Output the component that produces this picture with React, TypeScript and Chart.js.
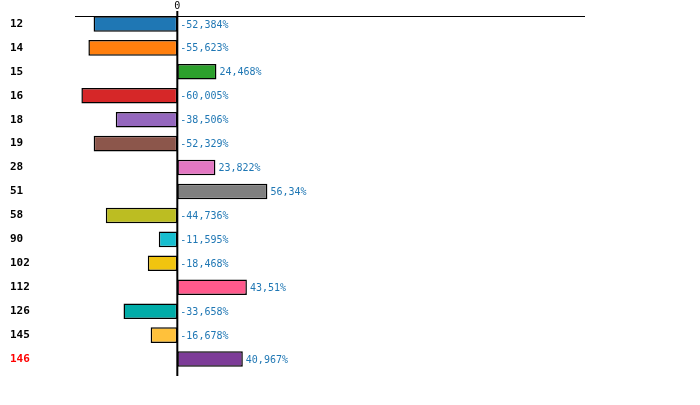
import { useEffect, useRef } from "react";
import { Chart, registerables } from "chart.js";

Chart.register(...registerables);

const categories = ["12", "14", "15", "16", "18", "19", "28", "51", "58", "90", "102", "112", "126", "145", "146"];
const values = [-52.384, -55.623, 24.468, -60.005, -38.506, -52.329, 23.822, 56.34, -44.736, -11.595, -18.468, 43.51, -33.658, -16.678, 40.967];
const barColors = [
  "#1f77b4", "#ff7f0e", "#2ca02c", "#d62728", "#9467bd",
  "#8c564b", "#e377c2", "#7f7f7f", "#bcbd22", "#17becf",
  "#f1c40f", "#ff5a8c", "#00aca8", "#ffc13b", "#7d3c98",
];
const highlighted = ["146"];

const fmt = (v: number) => String(v).replace(".", ",") + "%";

const overlayPlugin = {
  id: "overlay",
  afterDatasetsDraw(chart: any) {
    const { ctx, chartArea, scales } = chart;
    const meta = chart.getDatasetMeta(0);
    const x0 = scales.x.getPixelForValue(0);

    ctx.save();
    // top rule, level with the top of the first bar
    const first = meta.data[0];
    if (first) {
      const top = Math.round(first.y - first.height / 2) + 0.5;
      ctx.strokeStyle = "#000";
      ctx.lineWidth = 1;
      ctx.beginPath();
      ctx.moveTo(chartArea.left, top);
      ctx.lineTo(chartArea.right, top);
      ctx.stroke();
    }

    // zero line
    ctx.strokeStyle = "#000";
    ctx.lineWidth = 2;
    ctx.beginPath();
    ctx.moveTo(x0, chartArea.top - 1);
    ctx.lineTo(x0, chartArea.bottom + 5);
    ctx.stroke();

    // value labels
    ctx.font = "10px 'DejaVu Sans Mono'";
    ctx.fillStyle = "#1f77b4";
    ctx.textAlign = "left";
    ctx.textBaseline = "middle";
    meta.data.forEach((bar: any, i: number) => {
      const x = Math.max(bar.x, x0) + 3;
      ctx.fillText(fmt(values[i]), x, bar.y + 1);
    });
    ctx.restore();
  },
};

export default function App() {
  const canvasRef = useRef<HTMLCanvasElement | null>(null);
  const chartRef = useRef<Chart | null>(null);

  useEffect(() => {
    document.body.style.margin = "0";
    if (!canvasRef.current) return;
    const ctx = canvasRef.current.getContext("2d");
    if (!ctx) return;
    if (chartRef.current) chartRef.current.destroy();

    chartRef.current = new Chart(ctx, {
      type: "bar",
      data: {
        labels: categories,
        datasets: [
          {
            data: values,
            backgroundColor: barColors,
            borderColor: "#000",
            borderWidth: 1.5,
            borderSkipped: false,
            barPercentage: 0.65,
            categoryPercentage: 1,
          },
        ],
      },
      options: {
        indexAxis: "y",
        animation: false,
        responsive: false,
        devicePixelRatio: 1,
        layout: { padding: { left: 10, right: 115, top: 0, bottom: 34 } },
        plugins: {
          legend: { display: false },
          tooltip: { enabled: false },
        },
        scales: {
          x: {
            position: "top",
            min: -64,
            max: 255,
            afterBuildTicks: (scale: any) => {
              scale.ticks = [{ value: 0 }];
            },
            grid: { display: false, drawTicks: false },
            border: { display: false },
            ticks: {
              padding: 1,
              color: "#000",
              font: { family: "'DejaVu Sans Mono'", size: 10, lineHeight: 1 },
              callback: (v: any) => String(v),
            },
          },
          y: {
            grid: { display: false, drawTicks: false },
            border: { display: false },
            afterFit: (scale: any) => {
              scale.width = 65;
            },
            ticks: {
              crossAlign: "far",
              color: (c: any) => (highlighted.includes(categories[c.index]) ? "#ff0000" : "#000"),
              font: { family: "'DejaVu Sans Mono'", size: 11, weight: "bold" },
            },
          },
        },
      },
      plugins: [overlayPlugin],
    });

    return () => {
      if (chartRef.current) {
        chartRef.current.destroy();
        chartRef.current = null;
      }
    };
  }, []);

  return (
    <div style={{ width: 700, height: 405 }}>
      <canvas ref={canvasRef} width={700} height={405} />
    </div>
  );
}
